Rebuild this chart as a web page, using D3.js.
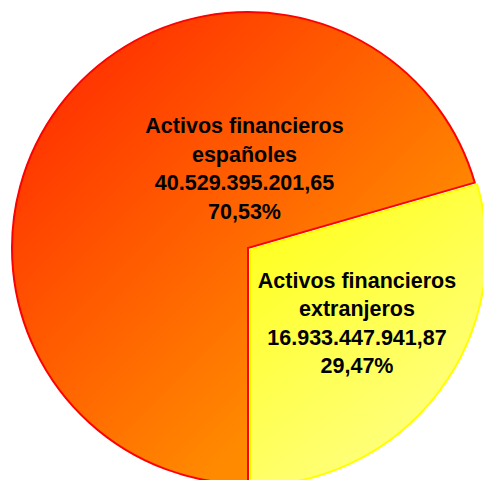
<!DOCTYPE html>
<html>
<head>
<meta charset="utf-8">
<script src="https://cdn.jsdelivr.net/npm/d3@7"></script>
<style>
  html, body { margin: 0; padding: 0; background: #ffffff; overflow: hidden; }
  svg { display: block; }
</style>
</head>
<body>
<svg id="chart" width="483" height="480"></svg>
<script>
const categories = ["Activos financieros españoles", "Activos financieros extranjeros"];
const labelLines = [["Activos financieros", "españoles"], ["Activos financieros", "extranjeros"]];
const values = [40529395201.65, 16933447941.87];
const valueLabels = ["40.529.395.201,65", "16.933.447.941,87"];
const percentLabels = ["70,53%", "29,47%"];

const W = 483, H = 480;
const cx = 248, cy = 248, R = 236;
const explode = [0, 3];

const svg = d3.select("#chart");
const defs = svg.append("defs");

// gradient coordinates are in the slice's local space (centered on pie center)
const g1 = defs.append("linearGradient").attr("id", "gradRed")
  .attr("gradientUnits", "userSpaceOnUse")
  .attr("x1", -R).attr("y1", -R).attr("x2", R).attr("y2", R);
g1.append("stop").attr("offset", 0).attr("stop-color", "#FF2000");
g1.append("stop").attr("offset", 0.7).attr("stop-color", "#FF8A00");
g1.append("stop").attr("offset", 1).attr("stop-color", "#FF8C00");

const g2 = defs.append("linearGradient").attr("id", "gradYellow")
  .attr("gradientUnits", "userSpaceOnUse")
  .attr("x1", 0).attr("y1", -70).attr("x2", R).attr("y2", R);
g2.append("stop").attr("offset", 0).attr("stop-color", "#FFFF10");
g2.append("stop").attr("offset", 1).attr("stop-color", "#FFFF99");

const fills = ["url(#gradRed)", "url(#gradYellow)"];
const strokes = ["#FF0000", "#FFFF00"];

const pie = d3.pie().sort(null).startAngle(-Math.PI).endAngle(Math.PI)(values);
const arc = d3.arc().innerRadius(0).outerRadius(R);

const root = svg.append("g").attr("transform", `translate(${cx},${cy})`);

const slices = root.selectAll("g.slice").data(pie).enter().append("g")
  .attr("class", "slice")
  .attr("transform", (d, i) => {
    const a = (d.startAngle + d.endAngle) / 2;
    return `translate(${Math.sin(a) * explode[i]},${-Math.cos(a) * explode[i]})`;
  });

slices.append("path")
  .attr("d", arc)
  .attr("fill", (d, i) => fills[i])
  .attr("stroke", (d, i) => strokes[i])
  .attr("stroke-width", 2)
  .attr("stroke-linejoin", "miter");

// Labels
const labelPos = [[244.5 - cx, 133 - cy], [357 - cx, 288 - cy]];
const lineH = 28.5;
slices.each(function(d, i) {
  const lines = labelLines[i].concat([valueLabels[i], percentLabels[i]]);
  const t = d3.select(this).append("text")
    .attr("text-anchor", "middle")
    .attr("font-family", "'Liberation Sans', Arial, sans-serif")
    .attr("font-weight", "bold")
    .attr("font-size", "21.5px")
    .attr("fill", "#000");
  const a = (d.startAngle + d.endAngle) / 2;
  const ox = -Math.sin(a) * explode[i];
  const oy = Math.cos(a) * explode[i];
  lines.forEach((ln, k) => {
    t.append("tspan")
      .attr("x", labelPos[i][0] + ox)
      .attr("y", labelPos[i][1] + oy + k * lineH)
      .text(ln);
  });
});
</script>
</body>
</html>
